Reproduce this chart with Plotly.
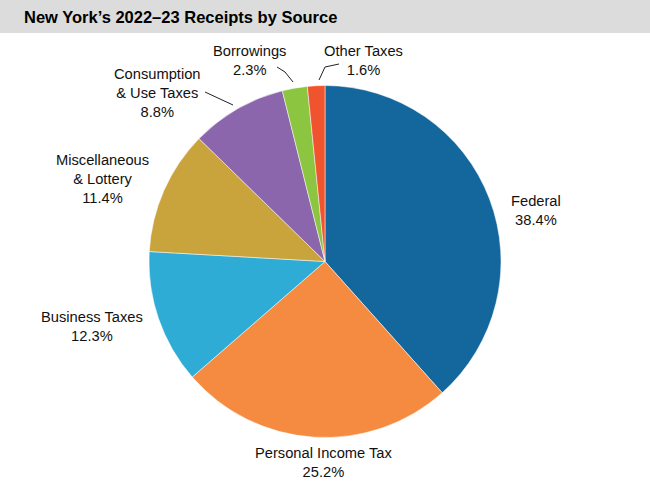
import plotly.graph_objects as go

W, H = 650, 499

categories = ["Federal", "Personal Income Tax", "Business Taxes",
              "Miscellaneous<br>& Lottery", "Consumption<br>& Use Taxes",
              "Borrowings", "Other Taxes"]
shares = [38.4, 25.2, 12.3, 11.4, 8.8, 2.3, 1.6]
colors = ["#14679c", "#f48b40", "#2eacd5", "#c9a43c", "#8b66ad", "#8cc540", "#f0542e"]

# label anchor positions (pixels)
label_pos = [(536, 210), (324, 462), (92, 326), (102, 179), (157, 93), (249, 60), (363, 60)]

def px(x):
    return x / W

def py(y):
    return 1 - y / H

fig = go.Figure()
fig.add_trace(go.Pie(
    labels=categories, values=shares, sort=False, direction="clockwise",
    rotation=0, textinfo="none", hoverinfo="label+percent",
    marker=dict(colors=colors, line=dict(color="white", width=0.5)),
    domain=dict(x=[px(149), px(501)], y=[py(438), py(85)]),
    showlegend=False,
))

annotations = []
for cat, val, (x, y) in zip(categories, shares, label_pos):
    annotations.append(dict(
        x=px(x), y=py(y), xref="paper", yref="paper",
        text=f"{cat}<br>{val:.1f}%", showarrow=False,
        font=dict(family="Liberation Sans, Arial, sans-serif", size=14.7, color="#111"),
        align="center", xanchor="center", yanchor="middle",
    ))
annotations.append(dict(
    x=px(22), y=py(17), xref="paper", yref="paper", xanchor="left", yanchor="middle",
    text="<b>New York’s 2022–23 Receipts by Source</b>", showarrow=False,
    font=dict(family="Liberation Sans, Arial, sans-serif", size=16.5, color="#000"),
))

def path(points):
    s = "M " + " L ".join(f"{px(a)},{py(b)}" for a, b in points)
    return s

shapes = [
    dict(type="rect", xref="paper", yref="paper", x0=0, x1=1, y0=py(33), y1=1,
         fillcolor="#dcdcdc", line=dict(width=0), layer="below"),
    dict(type="path", xref="paper", yref="paper", path=path([(205, 92), (233, 105)]),
         line=dict(color="#222", width=1)),
    dict(type="path", xref="paper", yref="paper", path=path([(277, 67), (285, 72), (293, 82)]),
         line=dict(color="#222", width=1)),
    dict(type="path", xref="paper", yref="paper", path=path([(339, 64), (325, 67), (319, 80)]),
         line=dict(color="#222", width=1)),
]

fig.update_layout(
    width=W, height=H, margin=dict(l=0, r=0, t=0, b=0),
    paper_bgcolor="white", plot_bgcolor="white",
    annotations=annotations, shapes=shapes,
)

fig.write_html("out.html", config={"displayModeBar": False},
               post_script="document.body.style.margin='0';document.body.style.padding='0';document.body.style.overflow='hidden';")
